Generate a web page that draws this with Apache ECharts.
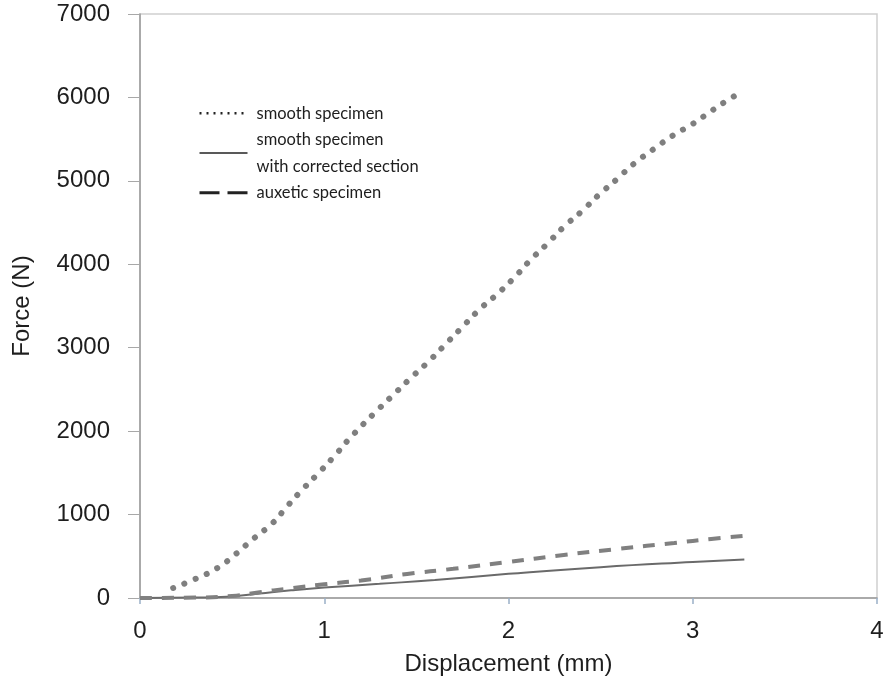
<!DOCTYPE html>
<html>
<head>
<meta charset="utf-8">
<script src="https://cdn.jsdelivr.net/npm/echarts@6/dist/echarts.min.js"></script>
<style>html,body{margin:0;padding:0;background:#fff}#c{width:892px;height:688px}</style>
</head>
<body>
<div id="c"></div>
<script>
// Displacement (mm) / Force (N) pairs
const smoothX = [0.18,0.30,0.42,0.52,0.62,0.72,0.80,0.89,0.98,1.07,1.15,1.29,1.38,1.47,1.57,1.66,1.75,1.84,1.94,2.03,2.12,2.21,2.30,2.40,2.49,2.59,2.68,2.79,2.89,3.00,3.11,3.21,3.27];
const smoothY = [120,228,360,528,719,899,1103,1319,1522,1739,1942,2254,2446,2638,2842,3046,3249,3453,3645,3837,4053,4245,4448,4640,4832,5024,5204,5384,5540,5683,5851,5995,6070];
const correctedX = [0,0.30,0.47,0.65,0.82,1.00,1.30,1.60,2.00,2.50,3.00,3.28];
const correctedY = [0,5,15,55,92,125,170,216,290,370,432,462];
const auxeticX = [0,0.30,0.50,0.65,0.80,1.00,1.20,1.45,1.70,2.00,2.30,2.60,2.90,3.10,3.28];
const auxeticY = [0,5,25,70,112,165,210,288,350,432,516,590,660,708,745];
const xTicks = [0,1,2,3,4];
const yTicks = [0,1000,2000,3000,4000,5000,6000,7000];
const names = ['smooth specimen','smooth specimen\nwith corrected section','auxetic specimen'];

const zip = (a,b) => a.map((v,i)=>[v,b[i]]);
const chart = echarts.init(document.getElementById('c'), null, {renderer:'canvas'});
const txt = '#1e1e1e';
const noSym = {color:'rgba(0,0,0,0)',borderWidth:0,opacity:0};
chart.setOption({
  animation:false,
  backgroundColor:'#fff',
  grid:{left:140,right:15,top:14,bottom:90,show:true,borderColor:'#cfcfcf',borderWidth:1.5,backgroundColor:'transparent'},
  legend:{
    orient:'vertical',left:198,top:100,padding:0,itemGap:0,itemWidth:48,itemHeight:14,
    textStyle:{fontFamily:'Lato',fontSize:16.5,color:txt,lineHeight:26.5,padding:[0,0,0,4]},
    data:[
      {name:names[0],itemStyle:noSym,lineStyle:{color:'#222',width:2.5,type:[2,5],cap:'butt'}},
      {name:names[1],itemStyle:noSym,lineStyle:{color:'#222',width:1.3,type:'solid'}},
      {name:names[2],itemStyle:noSym,lineStyle:{color:'#222',width:3,type:[20,8],cap:'butt'}}
    ]
  },
  xAxis:{
    type:'value',min:xTicks[0],max:xTicks[xTicks.length-1],interval:1,
    name:'Displacement (mm)',nameLocation:'middle',nameGap:54,
    nameTextStyle:{fontFamily:'Liberation Sans',fontSize:24,color:txt},
    axisLine:{lineStyle:{color:'#9a9a9a',width:1.5}},
    axisTick:{show:true,length:6,lineStyle:{color:'#9ab0c8',width:1.5}},
    axisLabel:{margin:21,fontFamily:'Liberation Sans',fontSize:24,color:txt,showMaxLabel:true,showMinLabel:true},
    splitLine:{show:false}
  },
  yAxis:{
    type:'value',min:yTicks[0],max:yTicks[yTicks.length-1],interval:1000,
    name:'Force (N)',nameLocation:'middle',nameGap:106,nameRotate:90,
    nameTextStyle:{fontFamily:'Liberation Sans',fontSize:24,color:txt},
    axisLine:{show:true,lineStyle:{color:'#9a9a9a',width:1.5}},
    axisTick:{show:true,length:12,lineStyle:{color:'#a8a8a8',width:1}},
    axisLabel:{margin:30,fontFamily:'Liberation Sans',fontSize:24,color:txt,formatter:v=>String(v)},
    splitLine:{show:false}
  },
  series:[
    {name:names[0],type:'line',data:zip(smoothX,smoothY),symbol:'none',smooth:true,
     lineStyle:{color:'#7f7f7f',width:6,type:[0.1,12],cap:'round'},z:3},
    {name:names[1],type:'line',data:zip(correctedX,correctedY),symbol:'none',smooth:true,
     lineStyle:{color:'#6a6a6a',width:2,type:'solid'},z:2},
    {name:names[2],type:'line',data:zip(auxeticX,auxeticY),symbol:'none',smooth:true,
     lineStyle:{color:'#808080',width:4,type:[12,10],cap:'butt'},z:2}
  ]
});
</script>
</body>
</html>
